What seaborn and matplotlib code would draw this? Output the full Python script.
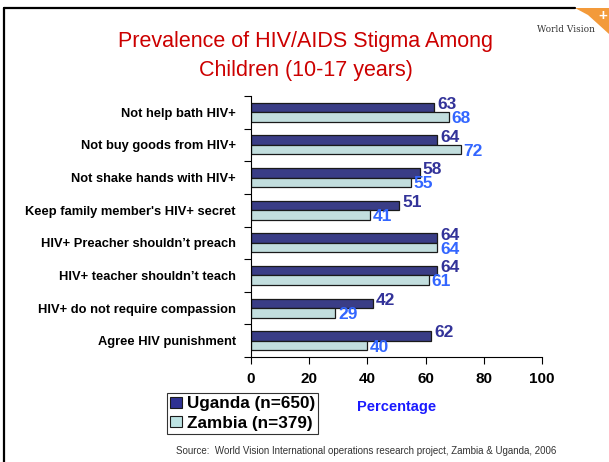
import matplotlib.pyplot as plt
import matplotlib.patches as mpatches
from matplotlib.lines import Line2D
from matplotlib.ticker import FixedLocator
import numpy as np
import pandas as pd
import seaborn as sns

categories = [
    "Not help bath HIV+",
    "Not buy goods from HIV+",
    "Not shake hands with HIV+",
    "Keep family member's HIV+ secret",
    "HIV+ Preacher shouldn\u2019t preach",
    "HIV+ teacher shouldn\u2019t teach",
    "HIV+ do not require compassion",
    "Agree HIV punishment",
]
uganda = [63, 64, 58, 51, 64, 64, 42, 62]
zambia = [68, 72, 55, 41, 64, 61, 29, 40]
series_names = ["Uganda (n=650)", "Zambia (n=379)"]
x_ticks = [0, 20, 40, 60, 80, 100]

df = pd.DataFrame({
    "category": categories * 2,
    "value": uganda + zambia,
    "country": [series_names[0]] * len(categories) + [series_names[1]] * len(categories),
})

sns.set_style("white", {"text.color": "black", "axes.labelcolor": "black",
                        "xtick.color": "black", "ytick.color": "black"})
plt.rcParams["font.family"] = ["Liberation Sans", "DejaVu Sans"]

fig = plt.figure(figsize=(6.09, 4.62), dpi=100)
ax = fig.add_axes([251 / 609, 1 - 357 / 462, 291 / 609, 261 / 462])

bar_colors = ["#2E3192", "#BDE3E3"]
sns.barplot(data=df, x="value", y="category", hue="country", orient="h",
            palette=bar_colors, width=0.58, gap=0, edgecolor="#1a1a1a",
            linewidth=0.9, legend=False, ax=ax)

# value labels: Uganda nudged up, Zambia nudged down a touch
label_colors = ["#333399", "#3366FF"]
nudges = [2.2, -1.2]
for cont, col, dy in zip(ax.containers, label_colors, nudges):
    anns = ax.bar_label(cont, padding=2, color=col, fontsize=12.5, fontweight="bold")
    for a in anns:
        a.xyann = (2, dy)

ax.set_xlim(0, 100)
ax.set_ylim(len(categories) - 0.5, -0.5)
ax.set_xticks(x_ticks)
ax.set_xticklabels([str(t) for t in x_ticks], fontsize=11, fontweight="bold")
ax.tick_params(axis="x", direction="out", length=5, width=0.8, pad=6, bottom=True)
ax.set_yticks(range(len(categories)))
ax.set_yticklabels(categories, fontsize=9.3, fontweight="bold")
ax.tick_params(axis="y", length=0, pad=11)
ax.yaxis.set_minor_locator(FixedLocator(np.arange(-0.5, len(categories), 1)))
ax.tick_params(axis="y", which="minor", direction="out", length=5, width=0.8, left=True)
for s in ["top", "right"]:
    ax.spines[s].set_visible(False)
for s in ["left", "bottom"]:
    ax.spines[s].set_color("black")
    ax.spines[s].set_linewidth(0.8)
ax.set_ylabel("")
ax.set_xlabel("Percentage", color="#1a1aff", fontsize=10.5, fontweight="bold", labelpad=10)
ax.grid(False)

# legend
handles = [mpatches.Patch(facecolor=c, edgecolor="#1a1a1a", linewidth=0.8) for c in bar_colors]
leg = fig.legend(handles, series_names, loc="upper left",
                 bbox_to_anchor=(167 / 609, 1 - 393 / 462), frameon=True,
                 fancybox=False, prop={"weight": "bold", "size": 12.3},
                 handlelength=0.65, handleheight=0.65, handletextpad=0.3,
                 borderpad=0.2, labelspacing=0.25, borderaxespad=0)
leg.get_frame().set_edgecolor("black")
leg.get_frame().set_linewidth(0.8)

# title
fig.text(0.502, 1 - 56 / 462, "Prevalence of HIV/AIDS Stigma Among\nChildren (10-17 years)",
         ha="center", va="center", color="#CC0000", fontsize=15.5, linespacing=1.45)

# source
fig.text(0.601, 1 - 451 / 462,
         "Source:  World Vision International operations research project, Zambia & Uganda, 2006",
         ha="center", va="center", color="#333333", fontsize=7)

# slide frame and logo
fig.add_artist(Line2D([4 / 609, 4 / 609], [0, 1 - 8 / 462], color="black", lw=1.6,
                      transform=fig.transFigure))
fig.add_artist(Line2D([4 / 609, 575 / 609], [1 - 8 / 462, 1 - 8 / 462], color="black", lw=1.6,
                      transform=fig.transFigure))
corner = [(575, 8), (609, 8), (609, 34), (598, 24), (588, 15)]
fig.add_artist(mpatches.Polygon([(x / 609, 1 - y / 462) for x, y in corner], closed=True,
                                facecolor="#F39A3A", edgecolor="none",
                                transform=fig.transFigure))
fig.text(603 / 609, 1 - 16 / 462, "+", ha="center", va="center", color="white",
         fontsize=11, fontweight="bold")
fig.text(566 / 609, 1 - 29 / 462, "World Vision", ha="center", va="center",
         color="#333333", fontsize=6.5, family=["DejaVu Serif"])

fig.savefig("out.png", dpi=100)
